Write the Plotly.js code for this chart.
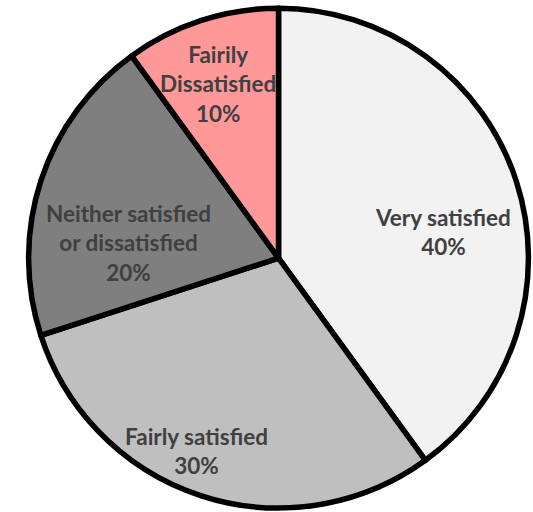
<!DOCTYPE html>
<html>
<head>
<meta charset="utf-8">
<script src="https://cdn.plot.ly/plotly-3.0.1.min.js"></script>
<style>
  html, body { margin: 0; padding: 0; background: #ffffff; }
  #chart { width: 533px; height: 512px; }
</style>
</head>
<body>
<div id="chart"></div>
<script>
// Satisfaction survey breakdown
const categories = [
  'Very satisfied',
  'Fairly satisfied',
  'Neither satisfied<br>or dissatisfied',
  'Fairily<br>Dissatisfied'
];
const shares = [40, 30, 20, 10];
const sliceColors = ['#f2f2f2', '#bfbfbf', '#7f7f7f', '#ff9999'];

const W = 533, H = 512;

// Data-label anchor points (pixels) inside each slice
const labelAnchors = [[443, 232], [196, 451], [128, 243], [218, 84]];

const total = shares.reduce((a, b) => a + b, 0);
const labelFont = { family: 'Lato, "Liberation Sans", sans-serif', size: 22.5, color: '#404040', weight: 'bold' };

const annotations = categories.map((name, i) => ({
  text: name + '<br>' + Math.round(shares[i] / total * 100) + '%',
  xref: 'paper', yref: 'paper',
  x: labelAnchors[i][0] / W,
  y: 1 - labelAnchors[i][1] / H,
  xanchor: 'center', yanchor: 'middle',
  align: 'center',
  showarrow: false,
  font: labelFont
}));

const trace = {
  type: 'pie',
  labels: categories,
  values: shares,
  sort: false,
  direction: 'clockwise',
  rotation: 0,
  marker: { colors: sliceColors, line: { color: '#000000', width: 5.5 } },
  textinfo: 'none',
  hoverinfo: 'none',
  showlegend: false,
  domain: { x: [0.0535, 0.9916], y: [0.0078, 0.984] }
};

const layout = {
  width: W,
  height: H,
  margin: { l: 0, r: 0, t: 0, b: 0 },
  paper_bgcolor: '#ffffff',
  showlegend: false,
  annotations: annotations
};

Plotly.newPlot('chart', [trace], layout, { staticPlot: true, displayModeBar: false });
</script>
</body>
</html>
